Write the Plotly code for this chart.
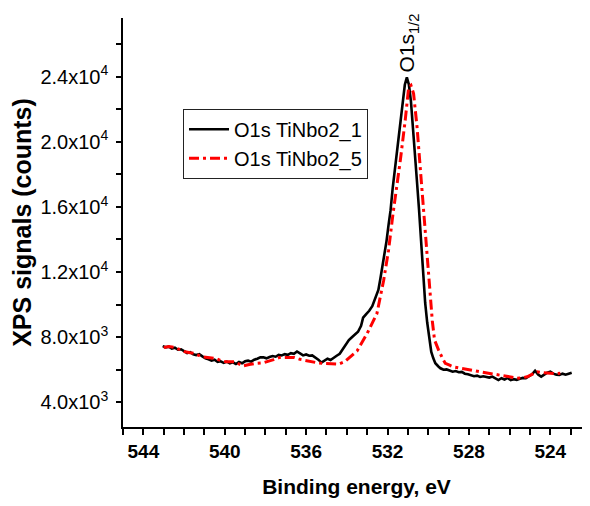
import plotly.graph_objects as go

# ---- data ----
black_name = "O1s TiNbo2_1"
black_e = [543.05, 542.9, 542.75, 542.6, 542.45, 542.3, 542.15, 542.0, 541.85, 541.7,
           541.55, 541.4, 541.25, 541.1, 540.95, 540.8, 540.65, 540.5, 540.35, 540.2,
           540.05, 539.9, 539.75, 539.6, 539.45, 539.3, 539.15, 539.0, 538.85, 538.7,
           538.55, 538.4, 538.25, 538.1, 537.95, 537.8, 537.65, 537.5, 537.35, 537.2,
           537.05, 536.9, 536.75, 536.6, 536.45, 536.3, 536.15, 536.0, 535.85, 535.7,
           535.55, 535.4, 535.25, 535.1, 534.95, 534.8, 534.65, 534.5, 534.35, 534.2,
           534.05, 533.9, 533.75, 533.6, 533.45, 533.3, 533.2, 533.05, 532.9, 532.75,
           532.6, 532.45, 532.35, 532.25, 532.15, 532.05, 531.95, 531.85, 531.75, 531.65,
           531.55, 531.45, 531.35, 531.25, 531.15, 531.05, 530.95, 530.85, 530.75, 530.65,
           530.55, 530.45, 530.35, 530.25, 530.15, 530.05, 529.95, 529.85, 529.75, 529.65,
           529.5, 529.4, 529.25, 529.1, 528.95, 528.8, 528.65, 528.5, 528.35, 528.2,
           528.05, 527.9, 527.75, 527.6, 527.45, 527.3, 527.15, 527.0, 526.85, 526.7,
           526.55, 526.4, 526.25, 526.1, 525.95, 525.8, 525.65, 525.5, 525.35, 525.2,
           525.05, 524.9, 524.75, 524.6, 524.45, 524.3, 524.15, 524.0, 523.85, 523.7,
           523.55, 523.4, 523.25, 523.1, 522.95]
black_counts = [7450, 7380, 7420, 7300, 7350, 7230, 7260, 7120, 7030, 7080,
                6950, 6900, 6960, 6820, 6700, 6640, 6560, 6620, 6480, 6520,
                6420, 6500, 6400, 6460, 6350, 6480, 6400, 6520, 6560, 6500,
                6620, 6680, 6760, 6760, 6700, 6780, 6840, 6800, 6920, 6880,
                6960, 6920, 7020, 6980, 7120, 7000, 6880, 6940, 6860, 6880,
                6760, 6620, 6440, 6560, 6680, 6600, 6760, 6860, 6980, 7260,
                7600, 7820, 8000, 8150, 8330, 8700, 9200, 9420, 9620, 9900,
                10400, 10900, 11600, 12300, 13000, 13900, 14900, 15800, 17100, 18200,
                18900, 20000, 21300, 22500, 23500, 23950, 23500, 22500, 21000, 19400,
                17500, 15800, 13800, 11700, 10100, 8900, 7900, 7100, 6700, 6400,
                6200, 6090, 6000, 6020, 5950, 5880, 5920, 5850, 5870, 5760,
                5720, 5680, 5600, 5640, 5560, 5600, 5570, 5520, 5580, 5450,
                5370, 5480, 5400, 5500, 5370, 5420, 5380, 5450, 5500, 5480,
                5600, 5720, 5940, 5700, 5580, 5700, 5820, 5880, 5760, 5700,
                5680, 5760, 5700, 5760, 5820]

red_name = "O1s TiNbo2_5"
red_e = [543.0, 542.75, 542.45, 542.2, 541.95, 541.7, 541.45, 541.15, 540.8, 540.45,
         540.2, 539.95, 539.5, 539.1, 538.8, 538.5, 538.1, 537.9, 537.6, 537.3,
         536.95, 536.6, 536.3, 536.0, 535.8, 535.5, 535.2, 534.8, 534.4, 534.1,
         533.8, 533.5, 533.0, 532.52, 532.19, 531.95, 531.73, 531.55, 531.37, 531.13,
         530.96, 530.85, 530.72, 530.55, 530.39, 530.23, 530.06, 529.9, 529.8, 529.69,
         529.58, 529.49, 529.3, 529.16, 528.95, 528.77, 528.35, 527.93, 527.5, 527.11,
         526.7, 526.31, 525.95, 525.64, 525.4, 525.14, 524.9, 524.65, 524.4, 524.16,
         523.8, 523.51]
red_counts = [7370, 7420, 7370, 7250, 7100, 7040, 7000, 6800, 6760, 6700,
              6560, 6490, 6490, 6230, 6320, 6390, 6430, 6490, 6620, 6760,
              6780, 6760, 6640, 6560, 6490, 6440, 6390, 6360, 6350, 6500,
              6850, 7150, 8230, 9460, 11500, 13340, 15590, 17200, 18870, 21330,
              23360, 23470, 22960, 20910, 18250, 16000, 13340, 10280, 9000, 7830,
              7450, 7210, 6700, 6390, 6280, 6180, 6080, 5980, 5880, 5780,
              5700, 5630, 5560, 5470, 5500, 5570, 5720, 5880, 5820, 5780,
              5760, 5780]

x_tickvals = [544, 540, 536, 532, 528, 524]
x_minorvals = [545, 543, 542, 541, 539, 538, 537, 535, 534, 533, 531, 530, 529, 527, 526, 525, 523]
y_tickvals = [4000, 8000, 12000, 16000, 20000, 24000]
y_ticktext = ["4.0x10<sup>3</sup>", "8.0x10<sup>3</sup>", "1.2x10<sup>4</sup>",
              "1.6x10<sup>4</sup>", "2.0x10<sup>4</sup>", "2.4x10<sup>4</sup>"]
y_minorvals = [6000, 10000, 14000, 18000, 22000, 26000]

peak_label = "O1s<sub>1/2</sub>"
peak_e = 531.0
peak_counts = 24150

FONT = "Arial, Liberation Sans, sans-serif"

fig = go.Figure()
fig.add_trace(go.Scatter(x=black_e, y=black_counts, mode="lines", name=black_name,
                         line=dict(color="black", width=2.6)))
fig.add_trace(go.Scatter(x=red_e, y=red_counts, mode="lines", name=red_name,
                         line=dict(color="#ff0000", width=3, dash="10px,4px,3px,4px")))

fig.add_annotation(x=peak_e, y=peak_counts, xref="x", yref="y", text=peak_label,
                   showarrow=False, textangle=-90, xanchor="center", yanchor="bottom",
                   font=dict(family=FONT, size=21, color="black"))

fig.update_layout(
    width=582, height=490,
    margin=dict(l=115, r=0, t=10, b=71),
    paper_bgcolor="white", plot_bgcolor="white",
    font=dict(family=FONT, color="black"),
    showlegend=True,
    legend=dict(x=0.1285, y=0.778, xanchor="left", yanchor="top",
                bgcolor="white", bordercolor="#222", borderwidth=1,
                font=dict(family=FONT, size=20, color="black"),
                tracegroupgap=0, itemwidth=40),
    xaxis=dict(range=[545, 522.05], showgrid=False, zeroline=False,
               showline=True, linecolor="black", linewidth=1.5,
               ticks="outside", ticklen=6, tickwidth=1.5, tickcolor="black",
               tickmode="array", tickvals=x_tickvals,
               tickfont=dict(family=FONT, size=19, color="black", weight="bold"),
               minor=dict(tickmode="array", tickvals=x_minorvals, ticks="outside",
                          ticklen=6, tickwidth=1.5, tickcolor="black", showgrid=False),
               title=dict(text="<b>Binding energy, eV</b>", standoff=22,
                          font=dict(family=FONT, size=21, color="black"))),
    yaxis=dict(range=[2485, 27600], showgrid=False, zeroline=False,
               showline=True, linecolor="black", linewidth=1.5,
               ticks="outside", ticklen=5, tickwidth=1.5, tickcolor="black",
               tickmode="array", tickvals=y_tickvals, ticktext=y_ticktext,
               ticklabelstandoff=4,
               tickfont=dict(family=FONT, size=20, color="black"),
               minor=dict(tickmode="array", tickvals=y_minorvals, ticks="outside",
                          ticklen=5, tickwidth=1.5, tickcolor="black", showgrid=False),
               title=dict(text="<b>XPS signals (counts)</b>", standoff=6,
                          font=dict(family=FONT, size=25, color="black"))),
)

fig.write_html("out.html")
